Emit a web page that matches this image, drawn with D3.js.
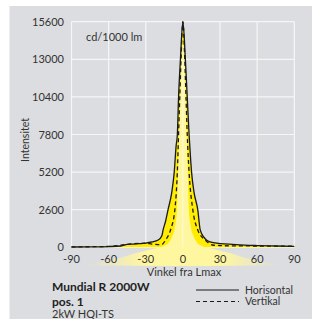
<!DOCTYPE html>
<html><head><meta charset="utf-8">
<script src="https://cdn.jsdelivr.net/npm/d3@7"></script>
<style>body{margin:0;background:#fff}svg{display:block}</style>
</head><body>
<script>
const yTicks = [0, 2600, 5200, 7800, 10400, 13000, 15600];
const xTicks = [-90, -60, -30, 0, 30, 60, 90];
// Horisontal (solid)
const horAngles = [-90,-75,-60,-50,-45,-40,-35,-30,-25,-20,-17,-16,-14,-12,-9,-7,-5.5,-4.5,-3.5,-2,0,2,3.5,5,6,7,9,12,14,17,19,22,26,30,40,50,60,75,90];
const horValues = [20,30,50,90,200,220,250,290,370,500,800,1200,1800,2600,3800,5200,7000,7800,10400,13000,15600,13000,10400,7800,6400,5200,3800,2600,1200,700,500,380,300,260,200,150,120,90,70];
// Vertikal (dashed)
const verAngles = [-90,-75,-60,-50,-40,-30,-25,-20,-17,-14,-10,-6.5,-4.5,-3.5,-2.5,-1.5,0,1.5,2.5,3.5,5,8,12,18,24,30,40,60,75,90];
const verValues = [30,40,60,150,250,280,220,190,200,500,1200,2600,5200,7800,10400,13000,15600,13000,10400,7800,5200,2600,1200,500,160,120,100,90,80,70];
// pale light shape (upper edge, then lower edge)
const paleTopAngles = [-78,-65,-50,-40,-30,-22,-18,-15,-12,-10,-7,-5,-4.5,-3.5,-2.5,-1.5,0,1.5,2.5,3.5,4.5,5,7,10,12,15,18,22,30,40,50,65,78];
const paleTopValues = [-1200,-1000,-720,-450,-230,-60,0,100,250,500,1100,2200,3300,6700,10000,13000,14500,13000,10000,6700,3300,2200,1100,500,250,100,0,-60,-230,-450,-720,-1000,-1200];
const paleBottomAngles = [78,40,0,-40,-78];
const paleBottomValues = [-1250,-1280,-1300,-1280,-1250];

const W = 312, H = 319;
const svg = d3.select("body").append("svg").attr("width", W).attr("height", H);
const font = "Lato, 'Open Sans', sans-serif";
const tc = "#333";

svg.append("rect").attr("x", 9.5).attr("y", 6).attr("width", W - 9.5).attr("height", H - 6).attr("fill", "#dcdde0");

const x = d3.scaleLinear().domain([-90, 90]).range([71.5, 294.3]);
const y = d3.scaleLinear().domain([0, 15600]).range([247.3, 21.7]);

const defs = svg.append("defs");
const grad = defs.append("linearGradient").attr("id", "paleg").attr("x1", "0").attr("x2", "1").attr("y1", "0").attr("y2", "0");
grad.append("stop").attr("offset", "0").attr("stop-color", "#fff6a0").attr("stop-opacity", 0);
grad.append("stop").attr("offset", "0.3").attr("stop-color", "#fff6a0").attr("stop-opacity", 1);
grad.append("stop").attr("offset", "0.7").attr("stop-color", "#fff6a0").attr("stop-opacity", 1);
grad.append("stop").attr("offset", "1").attr("stop-color", "#fff6a0").attr("stop-opacity", 0);

// grid
const g = svg.append("g");
g.selectAll(".gx").data(xTicks).enter().append("line")
  .attr("x1", d => x(d)).attr("x2", d => x(d)).attr("y1", y(15600)).attr("y2", y(0))
  .attr("stroke", "#f6f6f6").attr("stroke-width", 1.2);
g.selectAll(".gy").data(yTicks).enter().append("line")
  .attr("x1", x(-90)).attr("x2", x(90)).attr("y1", d => y(d)).attr("y2", d => y(d))
  .attr("stroke", "#f6f6f6").attr("stroke-width", 1.2);

const hor = horAngles.map((a, i) => [a, horValues[i]]);
const ver = verAngles.map((a, i) => [a, verValues[i]]);
const curve = d3.curveMonotoneX;

// bright yellow under solid curve
svg.append("path").datum(hor)
  .attr("d", d3.area().x(d => x(d[0])).y0(y(0)).y1(d => y(d[1])).curve(curve))
  .attr("fill", "#ffec00");

// pale shape
const pale = paleTopAngles.map((a, i) => [a, paleTopValues[i]])
  .concat(paleBottomAngles.map((a, i) => [a, paleBottomValues[i]]));
svg.append("path").datum(pale)
  .attr("d", d3.line().x(d => x(d[0])).y(d => y(d[1])).curve(d3.curveLinearClosed))
  .attr("fill", "url(#paleg)");

// center gridline showing through pale
svg.append("line").attr("x1", x(0)).attr("x2", x(0)).attr("y1", y(13000)).attr("y2", y(0))
  .attr("stroke", "#ffffff").attr("stroke-width", 1).attr("opacity", 0.6);

const line = d3.line().x(d => x(d[0])).y(d => y(d[1])).curve(curve);
svg.append("path").datum(hor).attr("d", line).attr("fill", "none").attr("stroke", "#1a1a1a").attr("stroke-width", 1.3);
svg.append("path").datum(ver).attr("d", line).attr("fill", "none").attr("stroke", "#1a1a1a").attr("stroke-width", 1.3).attr("stroke-dasharray", "4,3");

// tick labels
svg.selectAll(".yl").data(yTicks).enter().append("text")
  .attr("x", 64).attr("y", d => y(d) + 4).attr("text-anchor", "end")
  .attr("font-family", font).attr("font-size", 11).attr("fill", tc).text(d => d);
svg.selectAll(".xl").data(xTicks).enter().append("text")
  .attr("x", d => x(d)).attr("y", 263).attr("text-anchor", "middle")
  .attr("font-family", font).attr("font-size", 11).attr("fill", tc).text(d => d);

svg.append("text").attr("x", 184).attr("y", 276).attr("text-anchor", "middle")
  .attr("font-family", font).attr("font-size", 11).attr("fill", tc).text("Vinkel fra Lmax");
svg.append("text").attr("transform", "translate(29,140) rotate(-90)").attr("text-anchor", "middle")
  .attr("font-family", font).attr("font-size", 10.5).attr("fill", tc).text("Intensitet");
svg.append("text").attr("x", 86).attr("y", 41)
  .attr("font-family", font).attr("font-size", 11).attr("fill", tc).text("cd/1000 lm");

svg.append("text").attr("x", 52).attr("y", 291).attr("font-family", font).attr("font-weight", "bold")
  .attr("font-size", 12).attr("fill", "#222").text("Mundial R 2000W");
svg.append("text").attr("x", 52).attr("y", 305.5).attr("font-family", font).attr("font-weight", "bold")
  .attr("font-size", 12).attr("fill", "#222").text("pos. 1");
svg.append("text").attr("x", 52).attr("y", 318).attr("font-family", font)
  .attr("font-size", 11).attr("fill", tc).text("2kW HQI-TS");

// legend
const legend = [["Horisontal", null], ["Vertikal", "4,3"]];
legend.forEach((l, i) => {
  const ly = 290 + i * 11.5;
  svg.append("line").attr("x1", 196).attr("x2", 239).attr("y1", ly).attr("y2", ly)
    .attr("stroke", "#1a1a1a").attr("stroke-width", 1.1).attr("stroke-dasharray", l[1]);
  svg.append("text").attr("x", 245).attr("y", ly + 3.5).attr("font-family", font)
    .attr("font-size", 10.5).attr("fill", tc).text(l[0]);
});
</script>
</body></html>
